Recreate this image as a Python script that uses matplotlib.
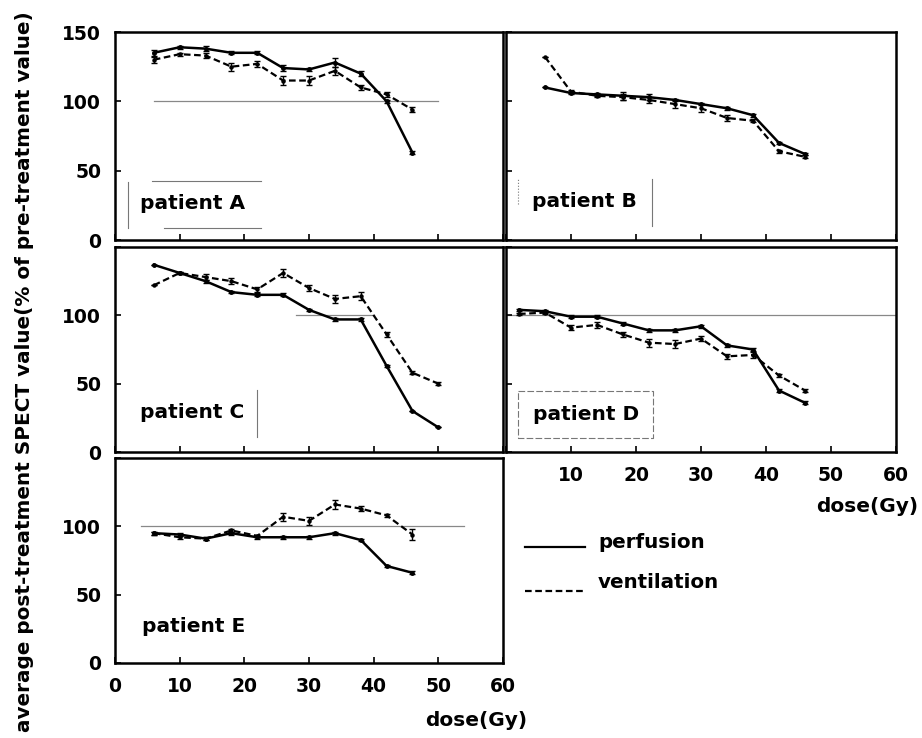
import matplotlib
matplotlib.use("Agg")
import matplotlib.pyplot as plt
from matplotlib.lines import Line2D

plt.rcParams['font.family'] = ['DejaVu Sans']
plt.rcParams['font.weight'] = 'bold'

dose = [6, 10, 14, 18, 22, 26, 30, 34, 38, 42, 46]
dose_c = [6, 10, 14, 18, 22, 26, 30, 34, 38, 42, 46, 50]
dose_d = [2, 6, 10, 14, 18, 22, 26, 30, 34, 38, 42, 46]

perf_a = [135, 139, 138, 135, 135, 124, 123, 128, 120, 100, 63]
vent_a = [130, 134, 133, 125, 127, 115, 115, 122, 110, 105, 94]
perf_b = [110, 106, 105, 104, 103, 101, 98, 95, 90, 70, 62]
vent_b = [132, 107, 104, 103, 101, 98, 95, 88, 86, 64, 60]
perf_c = [137, 131, 125, 117, 115, 115, 104, 97, 97, 63, 30, 18]
vent_c = [122, 131, 128, 125, 119, 131, 120, 112, 114, 86, 58, 50]
perf_d = [104, 103, 99, 99, 94, 89, 89, 92, 78, 75, 45, 36]
vent_d = [101, 102, 91, 93, 86, 80, 79, 83, 70, 71, 56, 45]
perf_e = [95, 94, 91, 95, 92, 92, 92, 95, 90, 71, 66]
vent_e = [95, 92, 91, 97, 93, 107, 104, 116, 113, 108, 94]

err_perf_a = [2, 1, 2, 1, 1, 2, 1, 3, 2, 1, 1]
err_vent_a = [2, 1, 2, 3, 2, 3, 3, 3, 2, 2, 2]
err_perf_b = [0, 1, 1, 3, 2, 1, 1, 1, 1, 1, 1]
err_vent_b = [0, 1, 1, 2, 2, 3, 3, 2, 1, 1, 1]
err_perf_c = [0, 1, 1, 1, 1, 1, 1, 1, 1, 1, 0, 0]
err_vent_c = [0, 1, 2, 2, 2, 3, 2, 3, 3, 2, 1, 1]
err_perf_d = [1, 1, 1, 1, 1, 1, 1, 1, 1, 1, 1, 1]
err_vent_d = [1, 1, 2, 2, 2, 3, 3, 2, 2, 2, 1, 1]
err_perf_e = [1, 1, 1, 1, 1, 1, 1, 1, 1, 1, 1]
err_vent_e = [1, 1, 1, 1, 1, 3, 3, 3, 2, 1, 4]

patients = ['patient A', 'patient B', 'patient C', 'patient D', 'patient E']
x_ticks = [0, 10, 20, 30, 40, 50, 60]
y_ticks = [0, 50, 100, 150]

W, H = 922, 738
fig = plt.figure(figsize=(W / 100, H / 100), dpi=100)

def box(x0, y0, x1, y1):
    return [x0 / W, 1 - y1 / H, (x1 - x0) / W, (y1 - y0) / H]

axA = fig.add_axes(box(115, 32, 503, 240))
axB = fig.add_axes(box(506, 32, 896, 240))
axC = fig.add_axes(box(115, 247, 503, 452))
axD = fig.add_axes(box(506, 247, 896, 452))
axE = fig.add_axes(box(115, 458, 503, 663))

panels = [
    (axA, dose, perf_a, vent_a, err_perf_a, err_vent_a, (6, 50)),
    (axB, dose, perf_b, vent_b, err_perf_b, err_vent_b, None),
    (axC, dose_c, perf_c, vent_c, err_perf_c, err_vent_c, (28, 40)),
    (axD, dose_d, perf_d, vent_d, err_perf_d, err_vent_d, (0, 60)),
    (axE, dose, perf_e, vent_e, err_perf_e, err_vent_e, (4, 54)),
]

for ax, xs, p, v, ep, ev, ref in panels:
    ax.set_xlim(0, 60)
    ax.set_ylim(0, 150)
    if ref is not None:
        ax.plot(ref, [100, 100], color='#888888', lw=0.9, zorder=1)
    ax.errorbar(xs, p, yerr=ep, color='black', lw=1.8, capsize=2, elinewidth=1,
                marker='o', ms=2.5, zorder=3)
    ax.errorbar(xs, v, yerr=ev, color='black', lw=1.6, capsize=2, elinewidth=1,
                marker='o', ms=2.2, dashes=(3, 1.6), zorder=3)
    for s in ax.spines.values():
        s.set_linewidth(1.8)
    ax.set_xticks(x_ticks)
    ax.set_yticks(y_ticks)
    ax.tick_params(direction='in', length=4, width=1.2, labelsize=13.5, pad=10,
                   colors='black')
    ax.tick_params(axis='y', pad=10)

for ax in (axA, axB, axC, axD):
    ax.set_xticklabels([])
for ax in (axB, axD):
    ax.set_yticklabels([])
axA.set_yticklabels(['0', '50', '100', '150'])
axC.set_yticklabels(['0', '50', '100', ''])
axE.set_yticklabels(['0', '50', '100', ''])
axE.set_xticklabels([str(t) for t in x_ticks])
axD.set_xticklabels([''] + [str(t) for t in x_ticks[1:]])

# patient labels
label_pos = [(axA, 3.8, 26.6), (axB, 4.0, 27.7), (axC, 3.8, 28.7),
             (axD, 4.2, 27.7), (axE, 4.2, 26.4)]
for (ax, x, y), name in zip(label_pos, patients):
    ax.text(x, y, name, fontsize=14.5, fontweight='bold', va='center', ha='left')

g = '#777777'
axA.plot([2, 2], [9, 42], color=g, lw=0.8)
axA.plot([5.7, 22.6], [42.5, 42.5], color=g, lw=0.8)
axA.plot([7.5, 22.6], [9, 9], color=g, lw=0.8)
axB.plot([1.9, 1.9], [26, 44], color=g, lw=0.8, ls=':')
axB.plot([22.4, 22.4], [10, 44], color=g, lw=0.8)
axC.plot([22, 22], [11, 45.5], color=g, lw=0.8)
axD.plot([1.9, 22.6, 22.6, 1.9, 1.9], [44.5, 44.5, 10.2, 10.2, 44.5],
         color=g, lw=0.8, ls=(0, (6, 2)))

# axis titles
fig.text(527 / W, 1 - 720 / H, 'dose(Gy)', fontsize=14.5, fontweight='bold',
         ha='right', va='center')
fig.text(918 / W, 1 - 507 / H, 'dose(Gy)', fontsize=14.5, fontweight='bold',
         ha='right', va='center')
fig.text(25 / W, 1 - 372 / H, 'average post-treatment SPECT value(% of pre-treatment value)',
         rotation=90, fontsize=14.4, fontweight='bold', ha='center', va='center')

# legend
fig.add_artist(Line2D([525 / W, 585 / W], [1 - 546.7 / H, 1 - 546.7 / H],
                      color='black', lw=1.6))
fig.add_artist(Line2D([525 / W, 585 / W], [1 - 590.7 / H, 1 - 590.7 / H],
                      color='black', lw=1.6, dashes=(3, 1.6)))
fig.text(598 / W, 1 - 542 / H, 'perfusion', fontsize=14.3, fontweight='bold',
         ha='left', va='center')
fig.text(598 / W, 1 - 583 / H, 'ventilation', fontsize=14.3, fontweight='bold',
         ha='left', va='center')

fig.savefig('out.png', dpi=100)
